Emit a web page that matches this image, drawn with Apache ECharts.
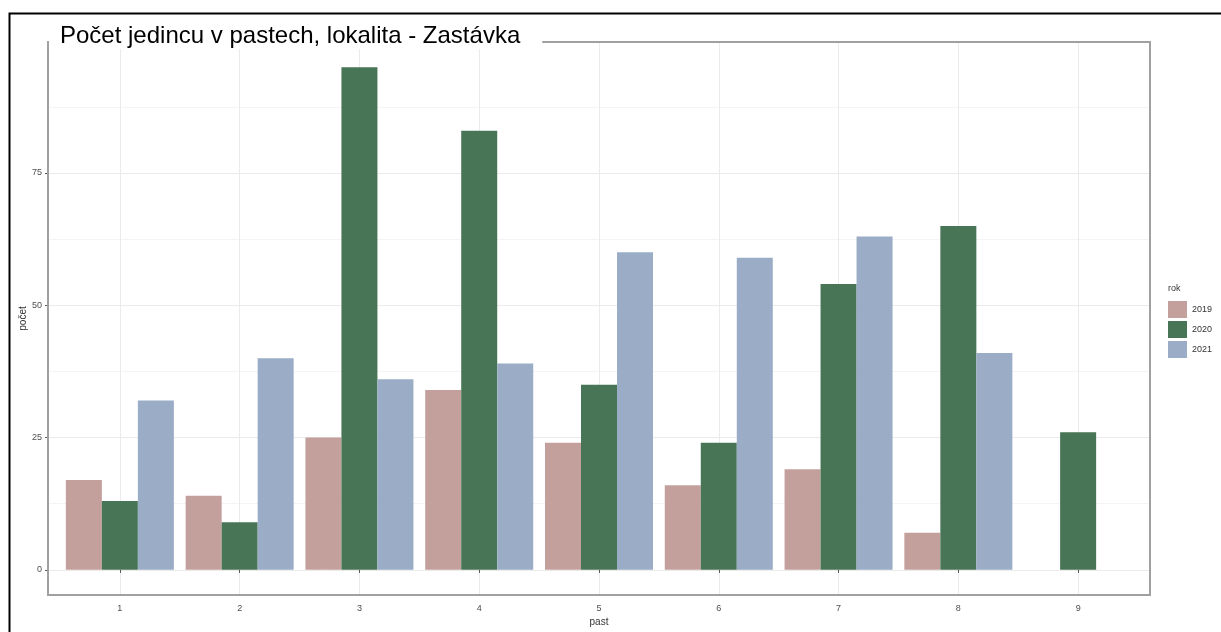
<!DOCTYPE html>
<html>
<head>
<meta charset="utf-8">
<script src="https://cdn.jsdelivr.net/npm/echarts@6/dist/echarts.min.js"></script>
<style>
html,body{margin:0;padding:0;background:#fff;}
#c{width:1221px;height:632px;}
</style>
</head>
<body>
<div id="c"></div>
<script>
var categories = [1, 2, 3, 4, 5, 6, 7, 8, 9];
var years = ['2019', '2020', '2021'];
var v2019 = [17, 14, 25, 34, 24, 16, 19, 7, null];
var v2020 = [13, 9, 95, 83, 35, 24, 54, 65, 26];
var v2021 = [32, 40, 36, 39, 60, 59, 63, 41, null];
var yTicks = [0, 25, 50, 75];
var yMinor = [12.5, 37.5, 62.5, 87.5];
var colors = ['#C4A09D', '#477556', '#9AACC6'];

function pairs(vals) {
  var out = [];
  for (var i = 0; i < categories.length; i++) {
    if (vals[i] !== null) out.push([categories[i], vals[i]]);
  }
  return out;
}
var seriesVals = [v2019, v2020, v2021];
var series = years.map(function (y, i) {
  return {
    name: y, type: 'bar', xAxisIndex: 0, yAxisIndex: 0,
    data: pairs(seriesVals[i]),
    barWidth: 36, barGap: '0%',
    itemStyle: { color: colors[i] },
    emphasis: { disabled: true }
  };
});

var chart = echarts.init(document.getElementById('c'), null, { renderer: 'canvas' });
var labelStyle = { color: '#4d4d4d', fontSize: 9, fontFamily: 'Liberation Sans, Arial, sans-serif' };
chart.setOption({
  animation: false,
  backgroundColor: '#ffffff',
  color: colors,
  title: [{
    text: 'Počet jedincu v pastech, lokalita - Zastávka',
    left: 49, top: 23,
    backgroundColor: '#ffffff',
    padding: [1, 22, 1, 11],
    textStyle: { color: '#000', fontSize: 24, fontWeight: 'normal', fontFamily: 'Liberation Sans, Arial, sans-serif' },
    z: 10
  }, {
    text: 'rok', left: 1168, top: 284,
    padding: 0,
    textStyle: { color: '#333', fontSize: 9, fontWeight: 'normal', fontFamily: 'Liberation Sans, Arial, sans-serif' }
  }],
  legend: {
    orient: 'vertical', left: 1168, top: 301,
    itemWidth: 19, itemHeight: 17, itemGap: 3, icon: 'rect',
    padding: 0,
    textStyle: { color: '#333', fontSize: 9, fontFamily: 'Liberation Sans, Arial, sans-serif' },
    data: years, selectedMode: false
  },
  grid: {
    left: 48, top: 42, right: 71, bottom: 31,
    show: true, borderColor: '#a0a0a0', borderWidth: 2, backgroundColor: 'transparent', z: 5
  },
  xAxis: {
    type: 'value', min: 0.4, max: 9.6,
    name: 'past', nameLocation: 'middle', nameGap: 22, nameMoveOverlap: false,
    nameTextStyle: { color: '#333', fontSize: 10, fontFamily: 'Liberation Sans, Arial, sans-serif' },
    axisLine: { show: false },
    axisTick: { show: true, length: 3, customValues: categories, lineStyle: { color: '#555' } },
    axisLabel: Object.assign({ customValues: categories, margin: 9 }, labelStyle),
    splitLine: { show: true, lineStyle: { color: '#ebebeb', width: 1 } }
  },
  yAxis: [{
    type: 'value', min: -4.75, max: 99.75,
    name: 'počet', nameLocation: 'middle', nameGap: 20, nameRotate: 90, nameMoveOverlap: false,
    nameTextStyle: { color: '#333', fontSize: 10, fontFamily: 'Liberation Sans, Arial, sans-serif' },
    axisLine: { show: false },
    axisTick: { show: true, length: 3, customValues: yTicks, lineStyle: { color: '#555' } },
    axisLabel: Object.assign({ customValues: yTicks, margin: 6 }, labelStyle),
    splitLine: { show: true, lineStyle: { color: '#ebebeb', width: 1 } }
  }, {
    type: 'value', min: -4.75, max: 99.75, position: 'left',
    axisLine: { show: false },
    axisTick: { show: false, customValues: yMinor },
    axisLabel: { show: false, customValues: yMinor },
    splitLine: { show: true, lineStyle: { color: '#f4f4f4', width: 1 } }
  }],
  graphic: [{
    type: 'rect', left: 7, top: 11, z: 100, silent: true,
    shape: { x: 0, y: 0, width: 1400, height: 800 },
    style: { fill: 'none', stroke: '#000', lineWidth: 2 }
  }],
  series: series
});
</script>
</body>
</html>
